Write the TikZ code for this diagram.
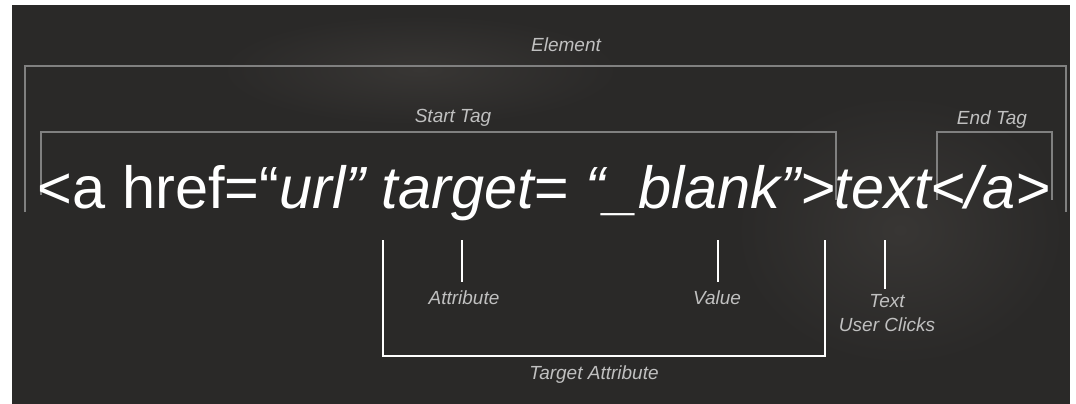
\documentclass[tikz,border=0pt]{standalone}
\usepackage{fontspec}
\setmainfont{Liberation Sans}
\definecolor{board}{RGB}{42,41,40}
\definecolor{boardlight}{RGB}{56,54,52}
\definecolor{labelgray}{RGB}{192,192,192}
\definecolor{linegray}{RGB}{128,128,128}
\begin{document}
\begin{tikzpicture}[x=1pt,y=-1pt,
  lbl/.style={text=labelgray, font=\itshape\fontsize{19}{24}\selectfont, inner sep=0pt},
  graybr/.style={draw=linegray, line width=1.1pt},
  whitebr/.style={draw=white, line width=2.2pt}]
\useasboundingbox (0,0) rectangle (1076,404);
\fill[white] (0,0) rectangle (1076,404);
\fill[board] (12,5) rectangle (1070,404);
\shade[inner color=boardlight, outer color=board] (900,230) ellipse (165pt and 135pt);
\shade[inner color=boardlight, outer color=board] (420,70) ellipse (200pt and 55pt);

% upper brackets
\coordinate (elL) at (25,212);
\coordinate (elR) at (1066,212);
\coordinate (stL) at (41,195);
\coordinate (stR) at (836,200);
\coordinate (etL) at (937,200);
\coordinate (etR) at (1052,200);
\draw[graybr] (elL) |- (1066,66) -- (elR);
\draw[graybr] (stL) |- (836,132) -- (stR);
\draw[graybr] (etL) |- (1052,132) -- (etR);

% main code line
\node[text=white, font=\fontsize{59.5}{62}\selectfont, inner sep=0pt, anchor=base] (code) at (544,208)
  {<a href=“\textit{url” target= “\_blank”>text</a>}};

% labels
\node[lbl] (el) at (566,45) {Element};
\node[lbl] (st) at (453,118) {Start Tag};
\node[lbl] (et) at (992,120) {End Tag};
\node[lbl] (attr) at (464,298) {Attribute};
\node[lbl] (val) at (717,298) {Value};
\node[lbl, align=center] (txt) at (887,313) {Text\\User Clicks};
\node[lbl] (ta) at (594,375) {Target Attribute};

% lower brackets and ticks
\coordinate (taL) at (383,240);
\coordinate (taR) at (825,240);
\draw[whitebr] (taL) |- (825,356) -- (taR);
\coordinate (attrT) at (462,240);
\coordinate (attrB) at (462,282);
\coordinate (valT) at (718,240);
\coordinate (valB) at (718,282);
\coordinate (txtT) at (885,240);
\coordinate (txtB) at (885,289);
\draw[whitebr] (attrT) -- (attrB);
\draw[whitebr] (valT) -- (valB);
\draw[whitebr] (txtT) -- (txtB);
\end{tikzpicture}
\end{document}
